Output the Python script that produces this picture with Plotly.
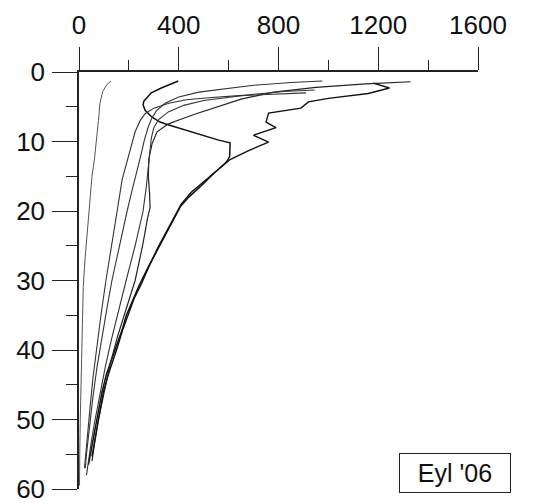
import plotly.graph_objects as go

# Depth profiles: value (x) against depth (y, increasing downward)
p1_x = [128, 112, 95, 84, 78, 70, 62, 52, 40, 32, 24, 17, 12, 8, 5, 3, 2]
p1_d = [1.3, 1.8, 2.8, 4.5, 7, 10, 12.5, 15, 20, 23, 27, 31, 38, 45, 50, 55, 59.5]

p2_x = [398, 370, 330, 290, 273, 260, 257, 265, 293, 325, 357, 420, 486, 560, 606, 604, 590, 540, 486,
        440, 406, 357, 313, 273, 240, 217, 190, 173, 150, 137, 110, 92, 72, 56, 45, 38]
p2_d = [1.3, 1.7, 2.3, 3.0, 3.6, 4.2, 4.7, 5.5, 6.5, 7.2, 7.6, 8.3, 9.05, 9.8, 10.2, 12.2, 13.0, 14.6, 16.5,
        18.0, 19.4, 22.7, 25.6, 28.4, 30.8, 32.8, 35.0, 37.1, 39.5, 40.9, 43.5, 46.1, 50, 53.5, 55.5, 56.5]

p3_x = [976, 850, 700, 580, 480, 400, 345, 310, 290, 275, 262, 248, 232, 213, 193, 168, 150, 132, 112,
        92, 72, 55, 40, 30, 25]
p3_d = [1.3, 1.5, 1.9, 2.4, 2.9, 3.6, 4.5, 5.6, 6.8, 8.2, 9.8, 12, 14.5, 17, 20, 24, 27, 30, 34,
        38, 42.5, 47, 51.5, 55, 57]

p4_x = [1330, 1150, 950, 780, 650, 554, 470, 400, 357, 313, 293, 280, 278, 283, 285, 275, 255, 225,
        190, 155, 125, 100, 78, 60, 52]
p4_d = [1.4, 1.7, 2.2, 2.9, 3.9, 5.0, 6.0, 6.9, 7.5, 8.6, 10.3, 12.5, 15, 17.5, 19.5, 21, 25, 30,
        34, 38, 42, 46, 50, 54, 56]

p5_x = [910, 780, 640, 520, 430, 360, 300, 265, 245, 225, 205, 193, 173, 153, 130, 108, 88, 70, 56,
        45, 35, 28, 22]
p5_d = [3.0, 3.2, 3.4, 3.7, 4.0, 4.5, 5.2, 6.0, 7.0, 8.6, 11.2, 13, 15.5, 20, 25, 30, 35, 40, 44,
        48, 52, 55, 57]

p6_x = [945, 820, 700, 600, 500, 420, 360, 320, 300, 290, 285, 280, 270, 257, 225, 189, 160, 130, 105,
        82, 62, 48, 38, 30]
p6_d = [2.6, 2.8, 3.2, 3.6, 4.1, 4.8, 5.7, 6.8, 8.0, 9.5, 11.2, 13.5, 16.5, 20, 25, 30, 34, 38.5, 42.5,
        46.5, 50.5, 53.5, 56, 58]

p7_x = [1180, 1245, 1160, 1000, 920, 890, 760, 750, 790, 700, 760, 680, 606, 560, 500, 450, 410, 365,
        320, 280, 250, 222, 195, 176, 155, 140, 118, 98, 80, 62, 52]
p7_d = [1.6, 2.3, 3.1, 3.8, 4.3, 5.2, 5.9, 7.2, 8.0, 9.1, 10.1, 11.3, 12.6, 14.0, 15.7, 17.3, 19.0, 22.0,
        25.0, 28.0, 30.5, 32.5, 35.0, 37.0, 39.5, 41.0, 43.5, 46.0, 49.5, 53.0, 55.3]

profiles = [
    (p1_x, p1_d, "#555555", 1.0),
    (p2_x, p2_d, "#111111", 1.5),
    (p3_x, p3_d, "#333333", 1.1),
    (p4_x, p4_d, "#222222", 1.2),
    (p5_x, p5_d, "#333333", 1.1),
    (p6_x, p6_d, "#333333", 1.1),
    (p7_x, p7_d, "#111111", 1.4),
]

x_ticks = [0, 400, 800, 1200, 1600]
x_minor = [200, 600, 1000, 1400]
y_ticks = [0, 10, 20, 30, 40, 50, 60]
y_minor = [5, 15, 25, 35, 45, 55]

fig = go.Figure()
for xs, ds, col, w in profiles:
    fig.add_trace(go.Scatter(x=xs, y=ds, mode="lines",
                             line=dict(color=col, width=w), showlegend=False,
                             hoverinfo="skip"))

axis_font = dict(family="Liberation Sans, Arial, sans-serif", size=26, color="#111111")

fig.update_layout(
    width=538, height=504,
    margin=dict(l=79, r=60, t=72, b=15),
    paper_bgcolor="white", plot_bgcolor="white",
    xaxis=dict(side="top", range=[0, 1600], tickvals=x_ticks, ticktext=[str(v) for v in x_ticks],
               ticks="outside", ticklen=23, tickwidth=1, tickcolor="#222222",
               showline=True, linecolor="#222222", linewidth=1.5, automargin=False,
               ticklabelstandoff=3, ticklabeloverflow="allow",
               showgrid=False, zeroline=False, tickfont=axis_font,
               minor=dict(tickvals=x_minor, ticks="outside", ticklen=10, tickwidth=1,
                          tickcolor="#222222", showgrid=False)),
    yaxis=dict(range=[60, 0], tickvals=y_ticks, ticktext=[str(v) for v in y_ticks],
               ticks="outside", ticklen=25, tickwidth=1, tickcolor="#222222",
               showline=True, linecolor="#222222", linewidth=1.5, automargin=False,
               ticklabelstandoff=2, ticklabeloverflow="allow",
               showgrid=False, zeroline=False, tickfont=axis_font,
               minor=dict(tickvals=y_minor, ticks="outside", ticklen=11, tickwidth=1,
                          tickcolor="#222222", showgrid=False)),
    annotations=[dict(x=1506, y=57.7, xref="x", yref="y", text="Eyl '06", showarrow=False,
                      font=dict(family="Liberation Sans, Arial, sans-serif", size=25, color="#111111"),
                      bordercolor="#222222", borderwidth=1, borderpad=1,
                      width=108, height=36, bgcolor="white")],
)

fig.write_html("out.html")
